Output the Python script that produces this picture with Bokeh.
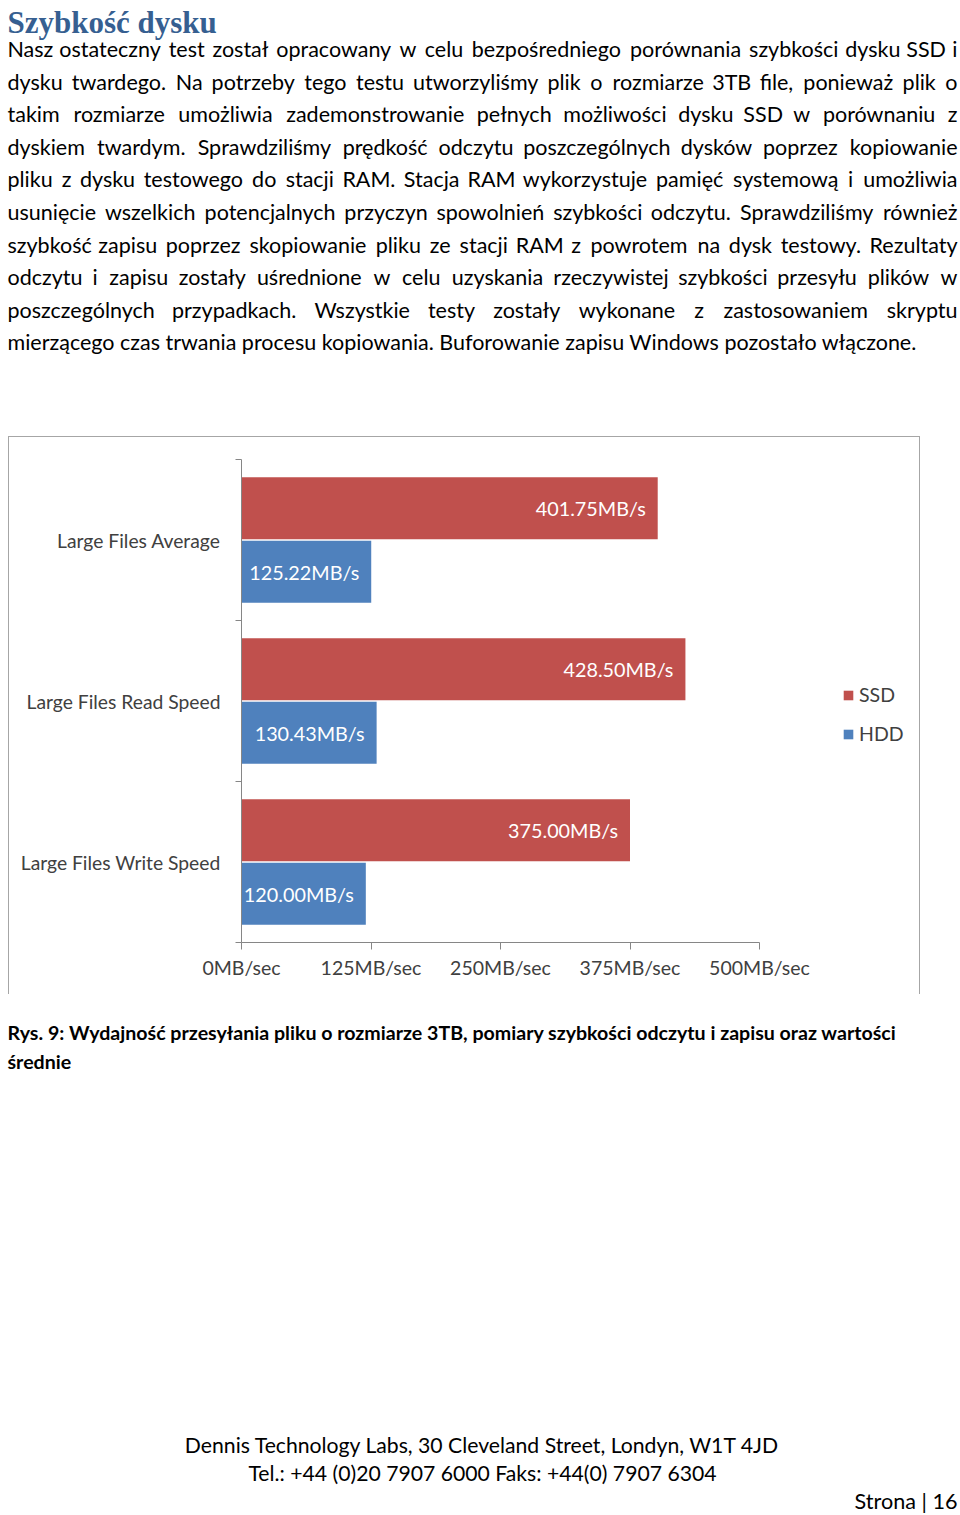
from bokeh.plotting import figure
from bokeh.models import (Range1d, FactorRange, ColumnDataSource, LinearAxis,
                          CategoricalAxis, FixedTicker, Legend, LegendItem)
from bokeh.transform import dodge
from bokeh.core.properties import value
from bokeh.embed import file_html
from bokeh.resources import INLINE

# ---------------- chart data ----------------
categories = ["Large Files Write Speed", "Large Files Read Speed", "Large Files Average"]  # bottom -> top
ssd_speed = [375.00, 428.50, 401.75]
hdd_speed = [120.00, 130.43, 125.22]
series_names = ["SSD", "HDD"]
x_ticks = [0, 125, 250, 375, 500]
x_tick_labels = ["0MB/sec", "125MB/sec", "250MB/sec", "375MB/sec", "500MB/sec"]

# ---------------- page texts ----------------
title_text = "Szybkość dysku"
body_lines = [
    "Nasz ostateczny test został opracowany w celu bezpośredniego porównania szybkości dysku SSD i",
    "dysku twardego. Na potrzeby tego testu utworzyliśmy plik o rozmiarze 3TB file, ponieważ plik o",
    "takim rozmiarze umożliwia zademonstrowanie pełnych możliwości dysku SSD w porównaniu z",
    "dyskiem twardym. Sprawdziliśmy prędkość odczytu poszczególnych dysków poprzez kopiowanie",
    "pliku z dysku testowego do stacji RAM. Stacja RAM wykorzystuje pamięć systemową i umożliwia",
    "usunięcie wszelkich potencjalnych przyczyn spowolnień szybkości odczytu. Sprawdziliśmy również",
    "szybkość zapisu poprzez skopiowanie pliku ze stacji RAM z powrotem na dysk testowy. Rezultaty",
    "odczytu i zapisu zostały uśrednione w celu uzyskania rzeczywistej szybkości przesyłu plików w",
    "poszczególnych przypadkach. Wszystkie testy zostały wykonane z zastosowaniem skryptu",
    "mierzącego czas trwania procesu kopiowania. Buforowanie zapisu Windows pozostało włączone.",
]
caption_lines = [
    "Rys. 9: Wydajność przesyłania pliku o rozmiarze 3TB, pomiary szybkości odczytu i zapisu oraz wartości",
    "średnie",
]
footer_lines = [
    "Dennis Technology Labs, 30 Cleveland Street, Londyn, W1T 4JD",
    "Tel.: +44 (0)20 7907 6000 Faks: +44(0) 7907 6304",
]
page_label = "Strona | 16"

FONT = "Lato"
TITLE_FONT = "Liberation Serif"
SSD_C = "#C0504D"
HDD_C = "#4F81BD"
AXIS_C = "#868686"
LABEL_C = "#404040"

# approximate advance widths (1/2048 em) used only to spread words of justified lines
CW = {' ': 463, '.': 517, ',': 511, ':': 548, '(': 621, ')': 621, '+': 1038, '-': 627, '/': 792,
      'A': 1185, 'B': 1114, 'C': 1092, 'D': 1260, 'E': 1000, 'F': 941, 'G': 1292, 'H': 1276,
      'I': 516, 'J': 653, 'K': 1064, 'L': 861, 'M': 1751, 'N': 1322, 'O': 1356, 'P': 1058,
      'Q': 1378, 'R': 1112, 'S': 941, 'T': 998, 'U': 1314, 'V': 1162, 'W': 1822, 'X': 1063,
      'Y': 998, 'Z': 959, 'a': 981, 'b': 1076, 'c': 866, 'd': 1076, 'e': 1019, 'f': 625,
      'g': 964, 'h': 1076, 'i': 470, 'j': 490, 'k': 931, 'l': 470, 'm': 1636, 'n': 1076,
      'o': 1080, 'p': 1076, 'q': 1076, 'r': 714, 's': 801, 't': 686, 'u': 1076, 'v': 925,
      'w': 1464, 'x': 887, 'y': 927, 'z': 809, 'ł': 500}
BASE = {'ą': 'a', 'ć': 'c', 'ę': 'e', 'ń': 'n', 'ó': 'o', 'ś': 's', 'ź': 'z', 'ż': 'z'}


def text_em(s):
    tot = 0
    for ch in s:
        ch = BASE.get(ch, ch)
        tot += CW.get(ch, 1038)
    return tot / 2048.0


def page_fig(y0, y1, width=960):
    p = figure(width=width, height=y1 - y0, x_range=Range1d(0, width),
               y_range=Range1d(y1, y0), output_backend="svg", toolbar_location=None,
               min_border=0, x_axis_location=None, y_axis_location=None)
    p.outline_line_color = None
    p.background_fill_color = "white"
    p.border_fill_color = "white"
    p.grid.visible = False
    return p


# ---------------- top: title + paragraph (page pixel coordinates) ----------------
top = page_fig(0, 436)
top.text(x=[7], y=[21.5], text=[title_text], text_font=value(TITLE_FONT), text_font_style="bold",
         text_font_size="31px", text_color="#365F91", text_baseline="alphabetic", text_align="left")

BODY_L, BODY_R = 7, 957
BODY_SIZE = "21.5px"
EST = 23.0  # px per em of the width table
lx, ly, lt = [], [], []
cx, cy, ct = [], [], []
rx, ry, rt = [], [], []
for i, line in enumerate(body_lines):
    y = 48.5 + i * 32.6
    if i == len(body_lines) - 1:
        lx.append(BODY_L); ly.append(y); lt.append(line)
        continue
    words = line.split()
    ws = [text_em(w) * EST for w in words]
    gap = (BODY_R - BODY_L - sum(ws)) / (len(words) - 1)
    pos = BODY_L
    for k, (w, wd) in enumerate(zip(words, ws)):
        if k == 0:
            lx.append(BODY_L); ly.append(y); lt.append(w)
        elif k == len(words) - 1:
            rx.append(BODY_R); ry.append(y); rt.append(w)
        else:
            cx.append(pos + wd / 2); cy.append(y); ct.append(w)
        pos += wd + gap

for xs, ys, ts, al in ((lx, ly, lt, "left"), (cx, cy, ct, "center"), (rx, ry, rt, "right")):
    top.text(x=xs, y=ys, text=ts, text_font=value(FONT), text_font_size=BODY_SIZE,
             text_color="black", text_baseline="alphabetic", text_align=al)

# ---------------- chart ----------------
# the frame runs on to the right edge of the chart box so that the legend fits inside it;
# the value axis itself is bounded to 0..500 MB/s
X_MAX = 500
PLOT_W = 518          # pixels taken by 0..500 MB/s
FRAME_W = 912 - 233 - 2
chart = figure(width=912, height=558, x_range=Range1d(0, X_MAX * FRAME_W / PLOT_W),
               y_range=FactorRange(factors=categories, range_padding=0),
               output_backend="svg", toolbar_location=None, y_axis_location=None,
               min_border_left=233, min_border_right=2, min_border_top=23, min_border_bottom=52)
chart.outline_line_color = None
chart.grid.visible = False
chart.background_fill_color = "white"
chart.border_fill_color = None
chart.styles = {"margin-left": "8px",
                "box-shadow": "inset 1px 1px 0 0 #a6a6a6, inset -1px 0 0 0 #a6a6a6"}

src = ColumnDataSource(dict(
    cat=categories, ssd=ssd_speed, hdd=hdd_speed,
    ssd_txt=[f"{v:.2f}MB/s" for v in ssd_speed],
    hdd_txt=[f"{v:.2f}MB/s" for v in hdd_speed],
))
OFF = 0.197
BH = 0.386
r_ssd = chart.hbar(y=dodge("cat", OFF, range=chart.y_range), left=0, right="ssd", height=BH,
                   fill_color=SSD_C, line_color=None, source=src)
r_hdd = chart.hbar(y=dodge("cat", -OFF, range=chart.y_range), left=0, right="hdd", height=BH,
                   fill_color=HDD_C, line_color=None, source=src)
for col, off in (("ssd", OFF), ("hdd", -OFF)):
    chart.text(x=col, y=dodge("cat", off, range=chart.y_range), text=col + "_txt", source=src,
               x_offset=-12, text_align="right", text_baseline="middle", text_color="white",
               text_font=value(FONT), text_font_size="19.8px")

xa = chart.xaxis[0]
xa.ticker = FixedTicker(ticks=x_ticks)
xa.bounds = (0, X_MAX)
xa.major_label_overrides = {t: l for t, l in zip(x_ticks, x_tick_labels)}
xa.axis_line_color = AXIS_C
xa.major_tick_line_color = AXIS_C
xa.major_tick_in = 0
xa.major_tick_out = 7
xa.minor_tick_line_color = None
xa.major_label_standoff = 6
xa.major_label_text_font = FONT
xa.major_label_text_font_size = "19.5px"
xa.major_label_text_color = LABEL_C

# boundary tick marks between categories (synthetic coordinates 0..3 of the factor range)
tick_axis = LinearAxis(ticker=FixedTicker(ticks=list(range(len(categories) + 1))),
                       major_label_overrides={i: "" for i in range(len(categories) + 1)},
                       axis_line_color=AXIS_C, major_tick_line_color=AXIS_C,
                       major_tick_in=0, major_tick_out=6, minor_tick_line_color=None,
                       major_label_standoff=0)
chart.add_layout(tick_axis, "left")
cat_axis = CategoricalAxis(axis_line_color=None, major_tick_line_color=None,
                           minor_tick_line_color=None, major_label_standoff=9,
                           major_label_text_font=FONT, major_label_text_font_size="19.3px",
                           major_label_text_color=LABEL_C)
chart.add_layout(cat_axis, "left")

legend = Legend(items=[LegendItem(label=series_names[0], renderers=[r_ssd]),
                       LegendItem(label=series_names[1], renderers=[r_hdd])],
                location=(601, 197), orientation="vertical", glyph_width=12, glyph_height=12,
                label_height=20, spacing=16, padding=0, margin=0, border_line_color=None,
                background_fill_color=None, label_standoff=5, label_text_font=FONT,
                label_text_font_size="19.5px", label_text_color=LABEL_C)
chart.add_layout(legend)

# ---------------- bottom: caption + footer (page pixel coordinates) ----------------
bottom = page_fig(994, 1515)
bottom.text(x=[7, 7], y=[1032, 1061], text=caption_lines, text_font=value(FONT),
            text_font_style="bold", text_font_size="19.6px", text_color="black",
            text_baseline="alphabetic", text_align="left")
bottom.text(x=[482, 482], y=[1444, 1472], text=footer_lines, text_font=value(FONT),
            text_font_size="21.2px", text_color="black", text_baseline="alphabetic", text_align="center")
bottom.text(x=[957], y=[1500], text=[page_label], text_font=value(FONT),
            text_font_size="21.6px", text_color="black", text_baseline="alphabetic", text_align="right")

open("out.html", "w").write(file_html([top, chart, bottom], INLINE))
